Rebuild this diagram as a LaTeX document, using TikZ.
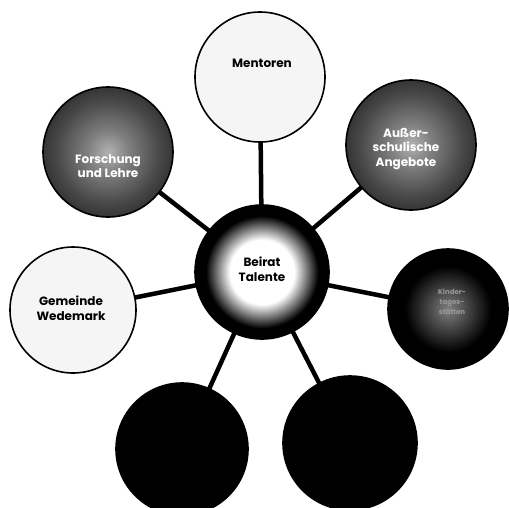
\documentclass[tikz,border=0pt]{standalone}
\usepackage{fontspec}
\setmainfont{Poppins}
\pgfdeclarelayer{bg}
\pgfsetlayers{bg,main}
\pgfdeclareradialshading{beiratshade}{\pgfpoint{0bp}{0bp}}{color(0bp)=(white); color(12bp)=(white); color(21bp)=(black); color(50bp)=(black)}
\pgfdeclareradialshading{darkshade}{\pgfpoint{0bp}{0bp}}{color(0bp)=(black!30); color(8bp)=(black!50); color(20bp)=(black!72); color(30bp)=(black!86); color(34bp)=(black); color(50bp)=(black)}
\pgfdeclareradialshading{kindershade}{\pgfpoint{0bp}{0bp}}{color(0bp)=(black!50); color(9bp)=(black!75); color(18bp)=(black); color(50bp)=(black)}
\tikzset{
  bubble/.style={circle, draw=black, line width=1.6pt, inner sep=0pt},
  lightbubble/.style={bubble, fill=black!4},
  darkbubble/.style={bubble, shading=darkshade},
  link/.style={line width=4.5pt, black},
  lbl/.style={font=\bfseries\fontsize{12}{14.5}\selectfont, align=center, inner sep=0pt},
  lblw/.style={lbl, text=white},
  lbls/.style={font=\bfseries\fontsize{7}{10}\selectfont, align=center, inner sep=0pt, text=black!40}
}
\begin{document}
\begin{tikzpicture}[x=1pt,y=-1pt]
\useasboundingbox (0,0) rectangle (509,507);
\begin{pgfonlayer}{bg}
\fill[white] (0,0) rectangle (509,507);
\end{pgfonlayer}
\clip (0,0) rectangle (509,507);
% circles
\node[bubble, minimum size=134pt, shading=beiratshade] (beirat) at (262,272) {};
\node[lightbubble, minimum size=130pt] (mentoren) at (260,77) {};
\node[darkbubble, minimum size=130pt] (forschung) at (108,152) {};
\node[darkbubble, minimum size=130pt] (ausser) at (411,145) {};
\node[bubble, minimum size=120pt, shading=kindershade] (kinder) at (448,309) {};
\node[lightbubble, minimum size=126pt] (gemeinde) at (73,310) {};
\node[bubble, minimum size=132pt, fill=black] (bl) at (182,449) {};
\node[bubble, minimum size=134pt, fill=black] (br) at (350,443) {};
% labels
\node[lbl] (tmentoren) at (262,63) {Mentoren};
\node[lblw] (tforschung) at (108,166) {Forschung\\und Lehre};
\node[lblw] (tausser) at (406,149) {Außer-\\schulische\\Angebote};
\node[lbl] (tbeirat) at (262,269) {Beirat\\Talente};
\node[lbl] (tgemeinde) at (71,308) {Gemeinde\\Wedemark};
\node[lbls] (tkinder) at (452,302) {Kinder-\\tages-\\stätten};
% connectors
\begin{pgfonlayer}{bg}
\draw[link] (beirat.center) -- (mentoren.center);
\draw[link] (beirat.center) -- (forschung.center);
\draw[link] (beirat.center) -- (ausser.center);
\draw[link] (beirat.center) -- (kinder.center);
\draw[link] (beirat.center) -- (gemeinde.center);
\draw[link] (beirat.center) -- (bl.center);
\draw[link] (beirat.center) -- (br.center);
\end{pgfonlayer}
\end{tikzpicture}
\end{document}
